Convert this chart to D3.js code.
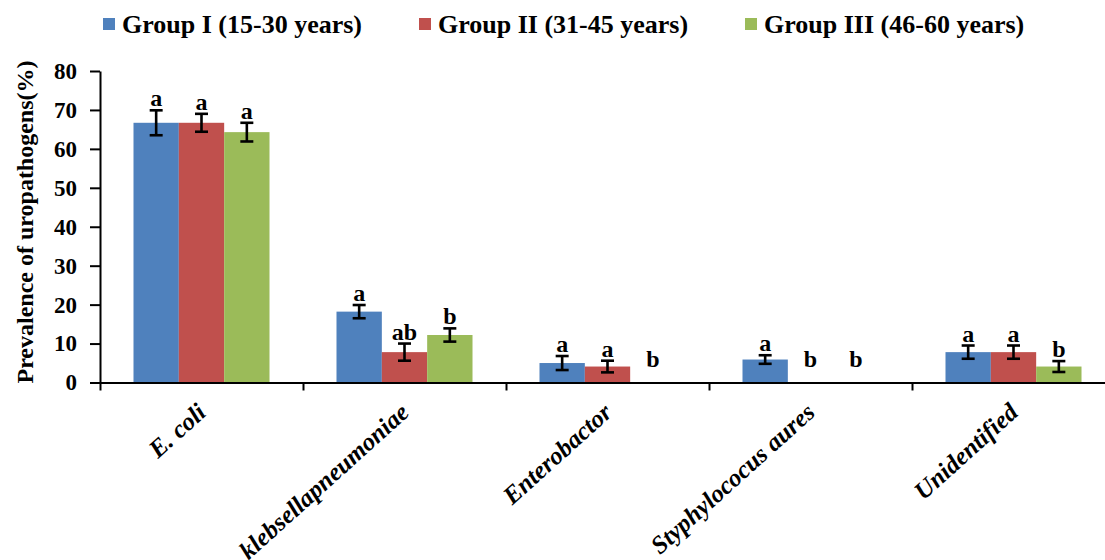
<!DOCTYPE html>
<html>
<head>
<meta charset="utf-8">
<script src="https://cdn.jsdelivr.net/npm/d3@7/dist/d3.min.js"></script>
<style>
  html, body { margin: 0; padding: 0; background: #fff; }
  svg { display: block; }
  text { font-family: "Liberation Serif", "Times New Roman", serif; font-weight: bold; fill: #000; }
</style>
</head>
<body>
<svg id="chart" width="1105" height="560"></svg>
<script>
// Uropathogen prevalence by age group
const categories = ["E. coli", "klebsellapneumoniae", "Enterobactor", "Styphylococus aures", "Unidentified"];
const groups = ["Group I (15-30 years)", "Group II (31-45 years)", "Group III (46-60 years)"];
const colors = ["#4F81BD", "#C0504D", "#9BBB59"];

const group1 = [66.7, 18.2, 5.0, 5.9, 7.8];
const group2 = [66.7, 7.8, 4.1, 0, 7.8];
const group3 = [64.3, 12.2, 0, 0, 4.1];

const err1 = [3.2, 1.7, 1.8, 1.1, 1.7];
const err2 = [2.3, 2.2, 1.5, 0, 1.7];
const err3 = [2.4, 1.7, 0, 0, 1.4];

const sig1 = ["a", "a", "a", "a", "a"];
const sig2 = ["a", "ab", "a", "b", "a"];
const sig3 = ["a", "b", "b", "b", "b"];

const yTicks = [0, 10, 20, 30, 40, 50, 60, 70, 80];

const seriesValues = [group1, group2, group3];
const seriesErrors = [err1, err2, err3];
const seriesSig = [sig1, sig2, sig3];

const svg = d3.select("#chart");
const mLeft = 100, mRight = 1115, mTop = 71, mBottom = 382.5;

const x0 = d3.scaleBand().domain(categories).range([mLeft, mRight]).paddingInner(0.33).paddingOuter(0.165);
const x1 = d3.scaleBand().domain(d3.range(groups.length)).range([0, x0.bandwidth()]);
const y = d3.scaleLinear().domain([0, 80]).range([mBottom, mTop]);

// bars
categories.forEach((cat, ci) => {
  const g = svg.append("g").attr("transform", `translate(${x0(cat)},0)`);
  seriesValues.forEach((vals, si) => {
    const v = vals[ci];
    const bx = x1(si);
    const cx = bx + x1.bandwidth() / 2;
    if (v > 0) {
      g.append("rect")
        .attr("x", bx).attr("width", x1.bandwidth())
        .attr("y", y(v)).attr("height", y(0) - y(v))
        .attr("fill", colors[si]);
    }
    const e = seriesErrors[si][ci];
    if (e > 0) {
      const eg = g.append("g").attr("stroke", "#000").attr("stroke-width", 2.6);
      eg.append("line").attr("x1", cx).attr("x2", cx).attr("y1", y(v + e)).attr("y2", y(v - e));
      eg.append("line").attr("x1", cx - 6.5).attr("x2", cx + 6.5).attr("y1", y(v + e)).attr("y2", y(v + e));
      eg.append("line").attr("x1", cx - 6.5).attr("x2", cx + 6.5).attr("y1", y(v - e)).attr("y2", y(v - e));
    }
    const labelY = v > 0 ? y(v + e) - 4 : y(0) - 16;
    g.append("text")
      .attr("x", cx).attr("y", labelY)
      .attr("text-anchor", "middle")
      .style("font-size", "24px")
      .text(seriesSig[si][ci]);
  });
});

// y axis
const yAxis = d3.axisLeft(y).tickValues(yTicks).tickSize(10).tickSizeOuter(0).tickPadding(13);
const yg = svg.append("g").attr("transform", `translate(${mLeft},0)`).call(yAxis);
yg.select(".domain").attr("stroke", "#000").attr("stroke-width", 2);
yg.selectAll(".tick line").attr("stroke", "#000").attr("stroke-width", 2);
yg.selectAll(".tick text")
  .style("font-family", '"Liberation Serif", "Times New Roman", serif')
  .style("font-weight", "bold").style("font-size", "23px").attr("fill", "#000");

// x axis with boundary ticks between categories
const xb = d3.scaleLinear().domain([0, categories.length]).range([mLeft, mRight]);
const xAxis = d3.axisBottom(xb).tickValues(d3.range(categories.length + 1)).tickSize(8).tickSizeOuter(0).tickFormat("");
const xg = svg.append("g").attr("transform", `translate(0,${mBottom})`).call(xAxis);
xg.select(".domain").attr("stroke", "#000").attr("stroke-width", 2);
xg.selectAll(".tick line").attr("stroke", "#000").attr("stroke-width", 2);

// category labels, rotated
categories.forEach(cat => {
  const cx = x0(cat) + x0.bandwidth() / 2 + 6;
  svg.append("text")
    .attr("transform", `translate(${cx},${mBottom + 32}) rotate(-42)`)
    .attr("text-anchor", "end")
    .style("font-style", "italic")
    .style("font-size", "25px")
    .text(cat);
});

// y axis title
svg.append("text")
  .attr("transform", `translate(33,222) rotate(-90)`)
  .attr("text-anchor", "middle")
  .style("font-size", "24px")
  .text("Prevalence of uropathogens(%)");

// legend
const legendX = [103, 419, 745];
groups.forEach((name, i) => {
  const lg = svg.append("g").attr("transform", `translate(${legendX[i]},24)`);
  lg.append("rect").attr("x", 0).attr("y", -6).attr("width", 12).attr("height", 12).attr("fill", colors[i]);
  lg.append("text").attr("x", 19).attr("y", 9).style("font-size", "26px").text(name);
});
</script>
</body>
</html>
